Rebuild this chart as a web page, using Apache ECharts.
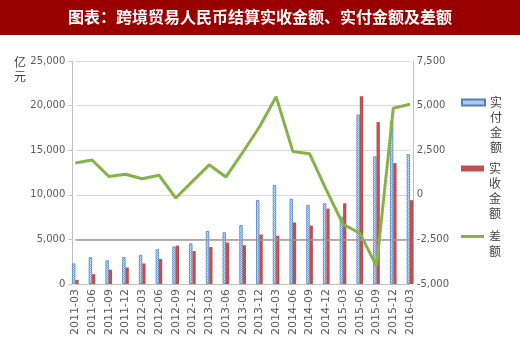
<!DOCTYPE html>
<html>
<head>
<meta charset="utf-8">
<script src="https://cdn.jsdelivr.net/npm/echarts@6/dist/echarts.min.js"></script>
<style>
html,body{margin:0;padding:0;background:#fff;}
#c{width:520px;height:356px;}
</style>
</head>
<body>
<div id="c"></div>
<script>
const categories = ['2011-03','2011-06','2011-09','2011-12','2012-03','2012-06','2012-09','2012-12','2013-03','2013-06','2013-09','2013-12','2014-03','2014-06','2014-09','2014-12','2015-03','2015-06','2015-09','2015-12','2016-03'];
const paidValues = [2300, 3000, 2650, 3000, 3250, 3900, 4200, 4550, 5950, 5800, 6600, 9400, 11100, 9550, 8850, 9050, 7550, 19000, 14300, 18300, 14550];
const receivedValues = [450, 1100, 1600, 1850, 2300, 2800, 4300, 3700, 4150, 4650, 4350, 5550, 5400, 6900, 6550, 8450, 9050, 21050, 18150, 13550, 9400];
const diffValues = [1780, 1950, 1030, 1150, 900, 1100, -180, 750, 1680, 1000, 2370, 3800, 5500, 2430, 2300, 280, -1650, -2150, -4000, 4850, 5080];
const leftTicks = [0, 5000, 10000, 15000, 20000, 25000];
const rightTicks = [-5000, -2500, 0, 2500, 5000, 7500];
const seriesNames = ['实付金额', '实收金额', '差额'];
const titleText = '图表：跨境贸易人民币结算实收金额、实付金额及差额';
const unitText = '亿\n元';

function fmt(v) {
  const s = String(Math.abs(v)).replace(/\B(?=(\d{3})+(?!\d))/g, ',');
  return v < 0 ? '-' + s : s;
}

const pc = document.createElement('canvas');
pc.width = 2; pc.height = 2;
const pctx = pc.getContext('2d');
pctx.fillStyle = '#E3ECF7'; pctx.fillRect(0, 0, 2, 2);
pctx.fillStyle = '#7FA6D6'; pctx.fillRect(0, 0, 1, 1); pctx.fillRect(1, 1, 1, 1);

const legendText = {fontSize: 12, lineHeight: 15, color: '#404040', fontFamily: 'Noto Sans CJK SC'};
function legendFmt(pre) {
  return function (name) { return pre + name.split('').join('\n'); };
}

const chart = echarts.init(document.getElementById('c'), null, {renderer: 'canvas'});
chart.setOption({
  animation: false,
  backgroundColor: '#ffffff',
  textStyle: {fontFamily: 'DejaVu Sans'},
  graphic: [
    {type: 'rect', left: 0, top: 0, shape: {width: 520, height: 35}, style: {fill: '#990000'}, z: 0},
    {type: 'text', left: 'center', top: 8.5, style: {text: titleText, fill: '#ffffff', font: 'bold 16px "Noto Sans CJK SC"'}, z: 1},
    {type: 'text', left: 14, top: 55, style: {text: unitText, fill: '#404040', font: '12px "Noto Sans CJK SC"', lineHeight: 14}}
  ],
  legend: [
    {data: [{name: seriesNames[0], icon: 'rect'}], orient: 'vertical', left: 461, top: 50, padding: 0, itemWidth: 23, itemHeight: 6,
     formatter: legendFmt('\n\n\n'), textStyle: legendText},
    {data: [{name: seriesNames[1], icon: 'rect'}], orient: 'vertical', left: 461, top: 116, padding: 0, itemWidth: 23, itemHeight: 6,
     formatter: legendFmt('\n\n\n'), textStyle: legendText},
    {data: [{name: seriesNames[2], icon: 'rect', itemStyle: {color: '#86B24A', borderWidth: 0}}], orient: 'vertical', left: 461, top: 214, padding: 0, itemWidth: 23, itemHeight: 3,
     formatter: legendFmt('\n'), textStyle: legendText}
  ],
  grid: {left: 75.3, right: 110, top: 61, bottom: 72},
  xAxis: {
    type: 'category',
    data: categories,
    boundaryGap: false,
    axisLine: {lineStyle: {color: '#BFBFBF', width: 1}},
    axisTick: {show: false},
    axisLabel: {rotate: 90, interval: 0, fontSize: 11, color: '#595959', margin: 5, fontFamily: 'DejaVu Sans'}
  },
  yAxis: [
    {
      type: 'value', min: leftTicks[0], max: leftTicks[leftTicks.length - 1], interval: 5000,
      offset: 3,
      axisLine: {show: true, lineStyle: {color: '#BFBFBF'}},
      axisTick: {show: true, length: 4, lineStyle: {color: '#BFBFBF'}},
      axisLabel: {formatter: fmt, fontSize: 10, color: '#595959', margin: 7},
      splitLine: {lineStyle: {color: '#D9D9D9', width: 1}}
    },
    {
      type: 'value', min: rightTicks[0], max: rightTicks[rightTicks.length - 1], interval: 2500,
      offset: 3.3,
      axisLine: {show: true, lineStyle: {color: '#BFBFBF'}},
      axisTick: {show: false},
      axisLabel: {formatter: fmt, fontSize: 10, color: '#595959', margin: 3.5},
      splitLine: {show: false}
    }
  ],
  series: [
    {
      name: seriesNames[0], type: 'bar', yAxisIndex: 0, data: paidValues,
      barWidth: 3.3, barGap: '0%',
      itemStyle: {color: {image: pc, repeat: 'repeat'}, borderColor: '#4F81BD', borderWidth: 0.8},
      markLine: {silent: true, symbol: 'none', label: {show: false},
        lineStyle: {color: '#9A9A9A', width: 1.5, type: 'solid'}, data: [{yAxis: 5000}]},
      z: 2
    },
    {
      name: seriesNames[1], type: 'bar', yAxisIndex: 0, data: receivedValues,
      barWidth: 3.3, barGap: '0%',
      itemStyle: {color: '#C0504D'},
      z: 2
    },
    {
      name: seriesNames[2], type: 'line', yAxisIndex: 1, data: diffValues,
      symbol: 'none', showSymbol: false,
      lineStyle: {color: '#86B24A', width: 3},
      itemStyle: {color: '#86B24A'},
      z: 3
    }
  ]
});
</script>
</body>
</html>
